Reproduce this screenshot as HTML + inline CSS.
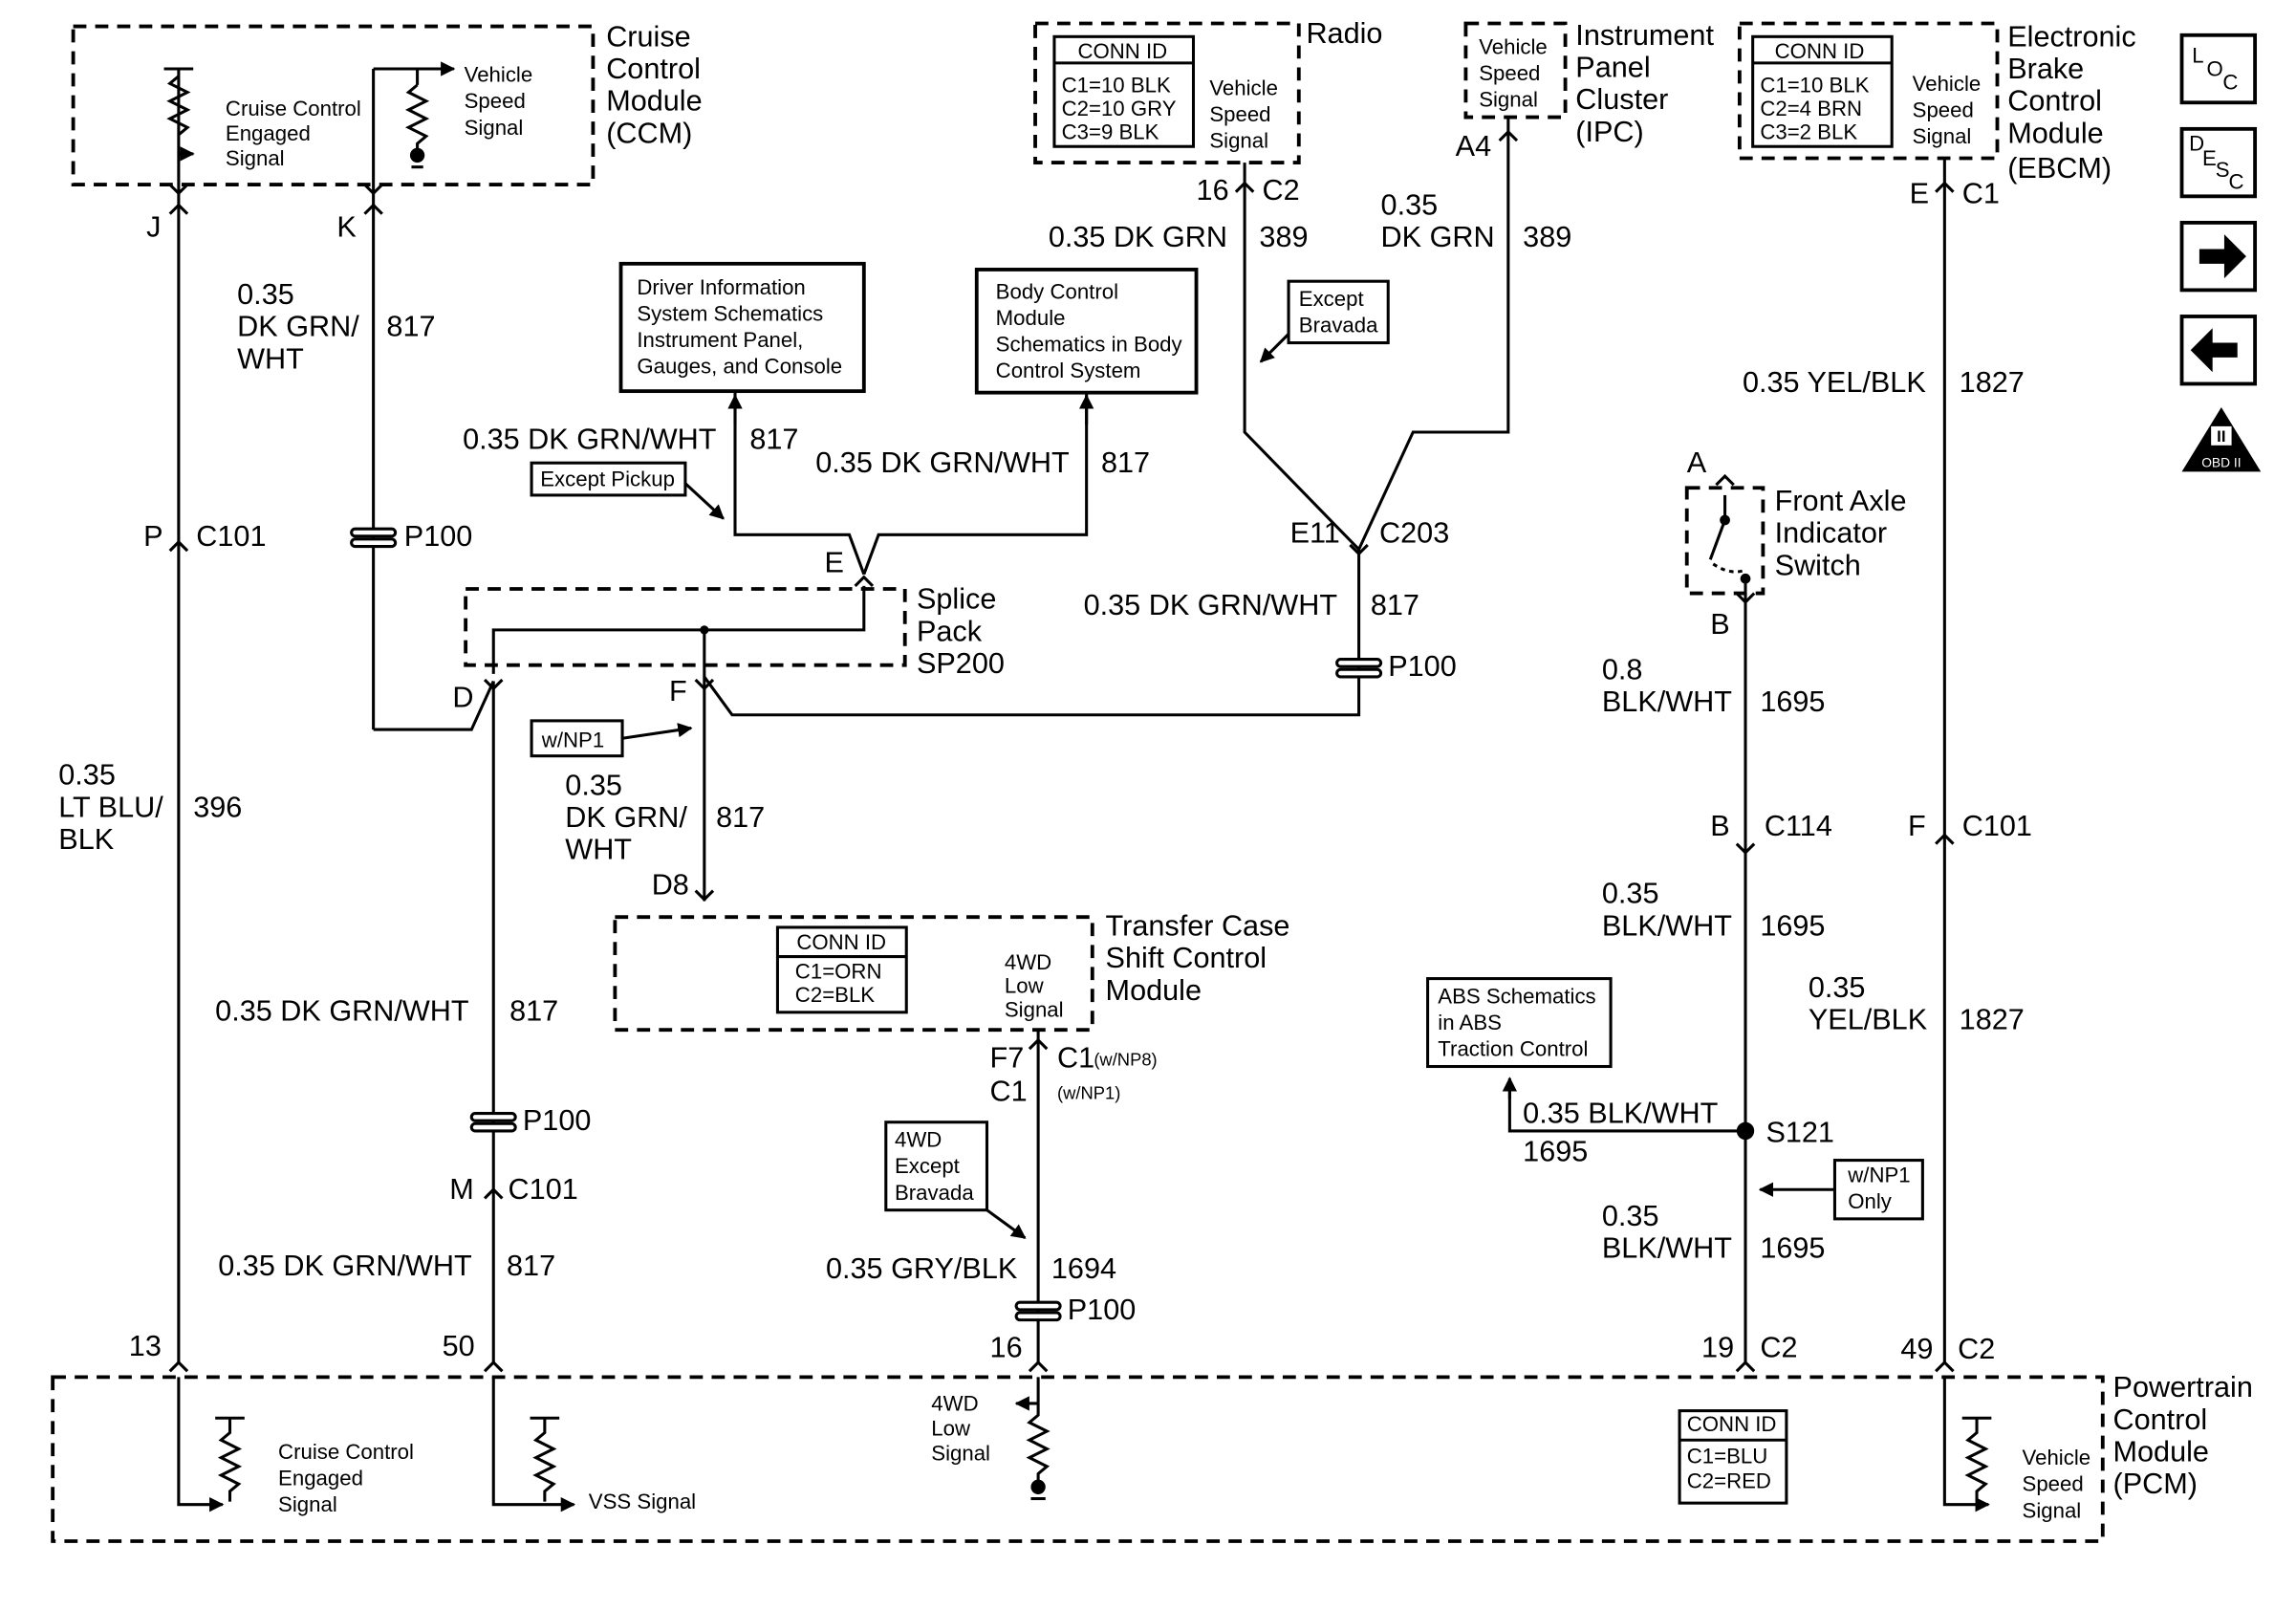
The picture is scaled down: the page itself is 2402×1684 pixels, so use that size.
<!DOCTYPE html>
<html><head><meta charset="utf-8"><style>
html,body{margin:0;padding:0;background:#fff}
svg{display:block}
text{font-family:"Liberation Sans",Arial,sans-serif;fill:#000;dominant-baseline:central}
.l{font-size:20px}.s{font-size:14.5px}.xs{font-size:12px}
</style></head><body>
<svg width="2402" height="1684" viewBox="0 0 1568 1099" preserveAspectRatio="none" xmlns="http://www.w3.org/2000/svg">
<defs>
<marker id="ar" viewBox="0 0 10 10" refX="9" refY="5" markerWidth="5" markerHeight="5" orient="auto"><path d="M0,0L10,5L0,10z" fill="#000"/></marker>
</defs>
<rect width="1568" height="1099" fill="#fff"/>
<g fill="none" stroke="#000" stroke-width="2.5" stroke-dasharray="9,6">
<rect x="50" y="18" width="355" height="108"/>
<rect x="707" y="16" width="180" height="95"/>
<rect x="1001" y="16" width="68" height="64"/>
<rect x="1188" y="16" width="176" height="92"/>
<rect x="318" y="402" width="300" height="52"/>
<rect x="1152" y="333" width="52" height="72"/>
<rect x="420" y="626" width="326" height="77"/>
<rect x="36" y="940" width="1400" height="112"/>
</g>
<g fill="none" stroke="#000" stroke-width="2">
<rect x="720" y="25" width="95" height="75"/><line x1="720" y1="43" x2="815" y2="43"/>
<rect x="1197" y="25" width="95" height="75"/><line x1="1197" y1="43" x2="1292" y2="43"/>
<rect x="531" y="633" width="88" height="58"/><line x1="531" y1="653" x2="619" y2="653"/>
<rect x="1147" y="963" width="73" height="63"/><line x1="1147" y1="983" x2="1220" y2="983"/>
<rect x="424" y="180" width="166" height="87" stroke-width="2.5"/>
<rect x="667" y="184" width="150" height="84" stroke-width="2.5"/>
<rect x="363" y="316" width="105" height="22"/>
<rect x="880" y="192" width="68" height="42"/>
<rect x="363" y="492" width="62" height="24"/>
<rect x="605" y="766" width="69" height="60"/>
<rect x="975" y="668" width="125" height="60"/>
<rect x="1253" y="792" width="60" height="40"/>
<line x1="112" y1="47" x2="132" y2="47"/><line x1="122" y1="47" x2="122" y2="930"/>
<path d="M122,52 l-6,5 12,6 -12,6 12,6 -12,6 12,6 -6,5"/>
<line x1="122" y1="105" x2="132" y2="105" marker-end="url(#ar)"/>
<line x1="255" y1="47" x2="255" y2="498"/><line x1="255" y1="47" x2="310" y2="47" marker-end="url(#ar)"/>
<line x1="285" y1="47" x2="285" y2="58"/><path d="M285,58 l-6,5 12,6 -12,6 12,6 -12,6 12,6 -6,5 v10"/>
<polyline points="255,498 322,498 337,465"/>
<line x1="337" y1="465" x2="337" y2="930"/>
<polyline points="337,460 337,430 590,430 590,400"/>
<line x1="481" y1="430" x2="481" y2="615"/>
<polyline points="502,268 502,365 580,365 590,392"/>
<polyline points="590,392 600,365 742,365 742,268"/>
<line x1="502" y1="290" x2="502" y2="270" marker-end="url(#ar)"/>
<line x1="742" y1="290" x2="742" y2="270" marker-end="url(#ar)"/>
<line x1="468" y1="330" x2="494" y2="354" marker-end="url(#ar)"/>
<polyline points="850,111 850,295 928,375"/>
<polyline points="1030,80 1030,295 965,295 928,375"/>
<line x1="880" y1="228" x2="861" y2="247" marker-end="url(#ar)"/>
<polyline points="928,375 928,488 500,488 481,462"/>
<line x1="425" y1="504" x2="472" y2="497" marker-end="url(#ar)"/>
<line x1="709" y1="703" x2="709" y2="930"/>
<line x1="674" y1="826" x2="700" y2="845" marker-end="url(#ar)"/>
<line x1="1328" y1="108" x2="1328" y2="930"/>
<line x1="1192" y1="405" x2="1192" y2="930"/>
<circle cx="1192" cy="772" r="5" fill="#000"/>
<polyline points="1192,772 1031,772 1031,738"/>
<line x1="1031" y1="750" x2="1031" y2="736" marker-end="url(#ar)"/>
<line x1="1253" y1="812" x2="1202" y2="812" marker-end="url(#ar)"/>
<line x1="1192" y1="410" x2="1192" y2="395"/><line x1="1178" y1="338" x2="1178" y2="355"/>
<line x1="1178" y1="355" x2="1168" y2="382"/><path d="M1170,385 q12,8 22,4" stroke-dasharray="3,3"/>
<circle cx="1192" cy="395" r="2.5" fill="#000"/><circle cx="1178" cy="355" r="2.5" fill="#000"/>
<polyline points="122,940 122,1027 152,1027" marker-end="url(#ar)"/>
<line x1="147" y1="968" x2="167" y2="968"/><path d="M157,968 v10 l-6,5 12,6 -12,6 12,6 -12,6 12,6 -6,5 v7"/>
<polyline points="337,940 337,1027 392,1027" marker-end="url(#ar)"/>
<line x1="362" y1="968" x2="382" y2="968"/><path d="M372,968 v10 l-6,5 12,6 -12,6 12,6 -12,6 12,6 -6,5 v7"/>
<line x1="709" y1="940" x2="709" y2="958"/><line x1="709" y1="958" x2="694" y2="958" marker-end="url(#ar)"/>
<path d="M709,958 v8 l-6,5 12,6 -12,6 12,6 -12,6 12,6 -6,5 v10"/>
<polyline points="1328,940 1328,1027 1358,1027" marker-end="url(#ar)"/>
<line x1="1340" y1="968" x2="1360" y2="968"/><path d="M1350,968 v10 l-6,5 12,6 -12,6 12,6 -12,6 12,6 -6,5 v7"/>
<path d="M116,146 l6,-6 6,6 M116,376 l6,-6 6,6 M116,936 l6,-6 6,6"/>
<path d="M249,146 l6,-6 6,6"/>
<path d="M844,131 l6,-6 6,6 M1024,96 l6,-6 6,6 M1322,131 l6,-6 6,6 M1322,576 l6,-6 6,6 M1322,936 l6,-6 6,6"/>
<path d="M331,464 l6,6 6,-6 M475,464 l6,6 6,-6 M584,400 l6,-6 6,6 M922,372 l6,6 6,-6 M331,818 l6,-6 6,6 M331,936 l6,-6 6,6"/>
<path d="M475,608 l6,6 6,-6 M703,716 l6,-6 6,6 M703,936 l6,-6 6,6 M1186,576 l6,6 6,-6 M1186,936 l6,-6 6,6 M1186,405 l6,6 6,-6 M1172,331 l6,-6 6,6"/>
<path d="M116,126 l6,6 6,-6 M249,126 l6,6 6,-6"/>
<rect x="1490" y="24" width="50" height="46" stroke-width="2.5"/>
<rect x="1490" y="88" width="50" height="46" stroke-width="2.5"/>
<rect x="1490" y="152" width="50" height="46" stroke-width="2.5"/>
<rect x="1490" y="216" width="50" height="46" stroke-width="2.5"/>
</g>
<g fill="#fff" stroke="#000" stroke-width="2">
<rect x="240" y="361" width="30" height="5" rx="2.5"/><rect x="240" y="368" width="30" height="5" rx="2.5"/>
<rect x="913" y="450" width="30" height="5" rx="2.5"/><rect x="913" y="457" width="30" height="5" rx="2.5"/>
<rect x="322" y="760" width="30" height="5" rx="2.5"/><rect x="322" y="767" width="30" height="5" rx="2.5"/>
<rect x="694" y="889" width="30" height="5" rx="2.5"/><rect x="694" y="896" width="30" height="5" rx="2.5"/>
</g>
<g fill="#000">
<circle cx="285" cy="106" r="5"/><circle cx="481" cy="430" r="3"/>
<circle cx="709" cy="1015" r="5"/>
<path d="M1502,170 h17 v-10 l15,15 -15,15 v-10 h-17z"/>
<path d="M1528,234 h-17 v-10 l-15,15 15,15 v-10 h17z"/>
<path d="M1517,278 l27,44 h-54z"/>
</g>
<g stroke="#000" stroke-width="2"><line x1="281" y1="114" x2="289" y2="114"/><line x1="704" y1="1023" x2="714" y2="1023"/></g>
<rect x="1510" y="291" width="14" height="13" fill="#fff"/>
<text x="1517" y="298" text-anchor="middle" style="font-size:11px;font-weight:bold">II</text>
<text x="1517" y="316" text-anchor="middle" style="font-size:9px;fill:#fff">OBD II</text>
<text x="1497" y="38" class="s">L</text><text x="1507" y="47" class="s">O</text><text x="1518" y="56" class="s">C</text>
<text x="1495" y="98" class="s">D</text><text x="1504" y="108" class="s">E</text><text x="1513" y="116" class="s">S</text><text x="1522" y="124" class="s">C</text>
<g class="l">
<text x="414" y="25">Cruise</text><text x="414" y="47">Control</text><text x="414" y="69">Module</text><text x="414" y="91">(CCM)</text>
<text x="100" y="155">J</text><text x="230" y="155">K</text>
<text x="162" y="201">0.35</text><text x="162" y="223">DK GRN/</text><text x="162" y="245">WHT</text><text x="264" y="223">817</text>
<text x="98" y="366">P</text><text x="134" y="366">C101</text><text x="276" y="366">P100</text>
<text x="40" y="529">0.35</text><text x="40" y="551">LT BLU/</text><text x="40" y="573">BLK</text><text x="132" y="551">396</text>
<text x="316" y="300">0.35 DK GRN/WHT</text><text x="512" y="300">817</text>
<text x="557" y="316">0.35 DK GRN/WHT</text><text x="752" y="316">817</text>
<text x="563" y="384">E</text>
<text x="626" y="409">Splice</text><text x="626" y="431">Pack</text><text x="626" y="453">SP200</text>
<text x="309" y="476">D</text><text x="457" y="472">F</text>
<text x="386" y="536">0.35</text><text x="386" y="558">DK GRN/</text><text x="386" y="580">WHT</text><text x="489" y="558">817</text>
<text x="445" y="604">D8</text>
<text x="147" y="690">0.35 DK GRN/WHT</text><text x="348" y="690">817</text>
<text x="357" y="765">P100</text>
<text x="307" y="812">M</text><text x="347" y="812">C101</text>
<text x="149" y="864">0.35 DK GRN/WHT</text><text x="346" y="864">817</text>
<text x="88" y="919">13</text><text x="302" y="919">50</text><text x="676" y="920">16</text>
<text x="892" y="23">Radio</text>
<text x="817" y="130">16</text><text x="862" y="130">C2</text>
<text x="716" y="162">0.35 DK GRN</text><text x="860" y="162">389</text>
<text x="1076" y="24">Instrument</text><text x="1076" y="46">Panel</text><text x="1076" y="68">Cluster</text><text x="1076" y="90">(IPC)</text>
<text x="994" y="100">A4</text>
<text x="943" y="140">0.35</text><text x="943" y="162">DK GRN</text><text x="1040" y="162">389</text>
<text x="881" y="364">E11</text><text x="942" y="364">C203</text>
<text x="740" y="413">0.35 DK GRN/WHT</text><text x="936" y="413">817</text>
<text x="948" y="455">P100</text>
<text x="755" y="632">Transfer Case</text><text x="755" y="654">Shift Control</text><text x="755" y="676">Module</text>
<text x="676" y="722">F7</text><text x="722" y="722">C1</text><text x="676" y="745">C1</text>
<text x="564" y="866">0.35 GRY/BLK</text><text x="718" y="866">1694</text>
<text x="729" y="894">P100</text>
<text x="1371" y="25">Electronic</text><text x="1371" y="47">Brake</text><text x="1371" y="69">Control</text><text x="1371" y="91">Module</text><text x="1371" y="115">(EBCM)</text>
<text x="1304" y="132">E</text><text x="1340" y="132">C1</text>
<text x="1190" y="261">0.35 YEL/BLK</text><text x="1338" y="261">1827</text>
<text x="1152" y="316">A</text>
<text x="1212" y="342">Front Axle</text><text x="1212" y="364">Indicator</text><text x="1212" y="386">Switch</text>
<text x="1168" y="426">B</text>
<text x="1094" y="457">0.8</text><text x="1094" y="479">BLK/WHT</text><text x="1202" y="479">1695</text>
<text x="1168" y="564">B</text><text x="1205" y="564">C114</text>
<text x="1303" y="564">F</text><text x="1340" y="564">C101</text>
<text x="1094" y="610">0.35</text><text x="1094" y="632">BLK/WHT</text><text x="1202" y="632">1695</text>
<text x="1235" y="674">0.35</text><text x="1235" y="696">YEL/BLK</text><text x="1338" y="696">1827</text>
<text x="1040" y="760">0.35 BLK/WHT</text><text x="1040" y="786">1695</text>
<text x="1206" y="773">S121</text>
<text x="1094" y="830">0.35</text><text x="1094" y="852">BLK/WHT</text><text x="1202" y="852">1695</text>
<text x="1162" y="920">19</text><text x="1202" y="920">C2</text>
<text x="1298" y="921">49</text><text x="1337" y="921">C2</text>
<text x="1443" y="947">Powertrain</text><text x="1443" y="969">Control</text><text x="1443" y="991">Module</text><text x="1443" y="1013">(PCM)</text>
</g>
<g class="s">
<text x="317" y="51">Vehicle</text><text x="317" y="69">Speed</text><text x="317" y="87">Signal</text>
<text x="154" y="74">Cruise Control</text><text x="154" y="91">Engaged</text><text x="154" y="108">Signal</text>
<text x="435" y="196">Driver Information</text><text x="435" y="214">System Schematics</text><text x="435" y="232">Instrument Panel,</text><text x="435" y="250">Gauges, and Console</text>
<text x="680" y="199">Body Control</text><text x="680" y="217">Module</text><text x="680" y="235">Schematics in Body</text><text x="680" y="253">Control System</text>
<text x="369" y="327">Except Pickup</text>
<text x="736" y="35">CONN ID</text><text x="725" y="58">C1=10 BLK</text><text x="725" y="74">C2=10 GRY</text><text x="725" y="90">C3=9 BLK</text>
<text x="826" y="60">Vehicle</text><text x="826" y="78">Speed</text><text x="826" y="96">Signal</text>
<text x="1010" y="32">Vehicle</text><text x="1010" y="50">Speed</text><text x="1010" y="68">Signal</text>
<text x="1212" y="35">CONN ID</text><text x="1202" y="58">C1=10 BLK</text><text x="1202" y="74">C2=4 BRN</text><text x="1202" y="90">C3=2 BLK</text>
<text x="1306" y="57">Vehicle</text><text x="1306" y="75">Speed</text><text x="1306" y="93">Signal</text>
<text x="887" y="204">Except</text><text x="887" y="222">Bravada</text>
<text x="370" y="505">w/NP1</text>
<text x="544" y="643">CONN ID</text><text x="543" y="663">C1=ORN</text><text x="543" y="679">C2=BLK</text>
<text x="686" y="657">4WD</text><text x="686" y="673">Low</text><text x="686" y="689">Signal</text>
<text x="611" y="778">4WD</text><text x="611" y="796">Except</text><text x="611" y="814">Bravada</text>
<text x="982" y="680">ABS Schematics</text><text x="982" y="698">in ABS</text><text x="982" y="716">Traction Control</text>
<text x="1262" y="802">w/NP1</text><text x="1262" y="820">Only</text>
<text x="190" y="991">Cruise Control</text><text x="190" y="1009">Engaged</text><text x="190" y="1027">Signal</text>
<text x="402" y="1025">VSS Signal</text>
<text x="636" y="958">4WD</text><text x="636" y="975">Low</text><text x="636" y="992">Signal</text>
<text x="1152" y="972">CONN ID</text><text x="1152" y="994">C1=BLU</text><text x="1152" y="1011">C2=RED</text>
<text x="1381" y="995">Vehicle</text><text x="1381" y="1013">Speed</text><text x="1381" y="1031">Signal</text>
</g>
<text x="747" y="723" class="xs">(w/NP8)</text><text x="722" y="746" class="xs">(w/NP1)</text>
</svg>
</body></html>
